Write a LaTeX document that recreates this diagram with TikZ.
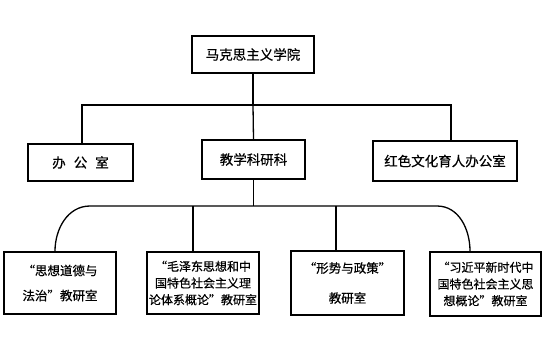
\documentclass[tikz,border=0pt]{standalone}
\usepackage{fontspec}
\newfontfamily\cjk[FakeBold=0.6]{Noto Sans CJK SC}
\newfontfamily\cjkq[RawFeature=+fwid,FakeBold=0.6]{Noto Sans CJK SC}
\newcommand\lqq{{\cjkq “}}
\newcommand\rqq{{\cjkq ”}}
\begin{document}
\begin{tikzpicture}[x=1pt,y=-1pt,
  box/.style={draw, line width=1.7pt, inner sep=0pt, align=center},
  big/.style={font=\cjk\fontsize{13.5}{16}\selectfont},
  small/.style={font=\cjk\fontsize{12}{16.7}\selectfont},
  link/.style={line width=1.3pt}]
\useasboundingbox (0,0) rectangle (554,362);
% level 0
\node[box, big, minimum width=122pt, minimum height=37pt] (root) at (253,54.5) {马克思主义学院};
% level 1
\node[box, big, minimum width=105pt, minimum height=37pt] (off) at (80.5,162.5) {办\hspace{8pt}公\hspace{8pt}室};
\node[box, big, minimum width=103pt, minimum height=39pt] (mid) at (253.5,159.5) {教学科研科};
\node[box, big, minimum width=144pt, minimum height=40pt] (red) at (445,161) {红色文化育人办公室};
% level 2
\node[box, font=\cjk\fontsize{12.5}{25}\selectfont, minimum width=112pt, minimum height=62pt] (b1) at (60,283) {\lqq 思想道德与\\法治\rqq 教研室};
\node[box, small, minimum width=112pt, minimum height=62pt] (b2) at (203,283) {\lqq 毛泽东思想和中\\国特色社会主义理\\论体系概论\rqq 教研室};
\node[box, font=\cjk\fontsize{12.5}{30}\selectfont, minimum width=113pt, minimum height=64pt] (b3) at (347.5,283) {\lqq 形势与政策\rqq\\教研室};
\node[box, small, minimum width=111pt, minimum height=64pt] (b4) at (485.5,284) {\lqq 习近平新时代中\\国特色社会主义思\\想概论\rqq 教研室};
% connectors level 0 -> 1
\coordinate (j1) at (253,105);
\draw[link] (root.south) -- (j1);
\draw[link] ([xshift=1.5pt]off.north) |- ([xshift=6pt]red.north |- j1) -- ([xshift=6pt]red.north);
\draw[link] (j1) -- (mid.north);
% connectors level 1 -> 2
\coordinate (j2) at (253.5,206);
\coordinate (cl) at (90,206);
\coordinate (cr) at (437,206);
\draw[link] (mid.south) -- (j2);
\draw[link] ([xshift=-5pt]b1.north) to[out=90,in=180] (cl) -- (cr) to[out=0,in=90] ([xshift=-15.5pt]b4.north);
\draw[link] ([xshift=-10pt]b2.north |- j2) -- ([xshift=-10pt]b2.north);
\draw[link] ([xshift=-11.5pt]b3.north |- j2) -- ([xshift=-11.5pt]b3.north);
\end{tikzpicture}
\end{document}
